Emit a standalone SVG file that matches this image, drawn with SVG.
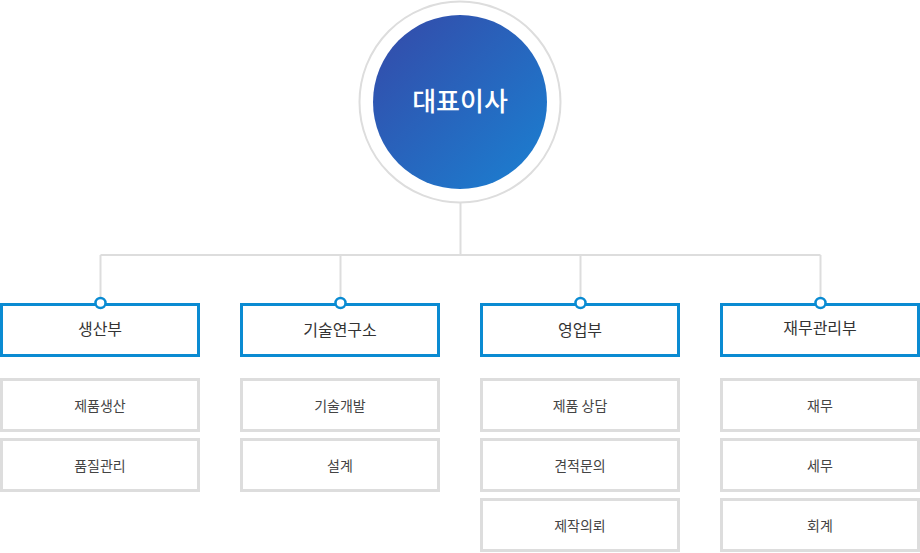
<svg xmlns="http://www.w3.org/2000/svg" width="920" height="553" viewBox="0 0 920 553">
<defs>
<linearGradient id="g" x1="0" y1="0" x2="1" y2="1">
<stop offset="0" stop-color="#3549a8"/>
<stop offset="1" stop-color="#1a81d2"/>
</linearGradient>
<style>
.dept{fill:#fff;stroke:#0a8bd2;stroke-width:3}
.sub{fill:#fff;stroke:#dddddd;stroke-width:3}
.dot{fill:#fff;stroke:#0a8bd2;stroke-width:2.5}
.dt{font-family:"Noto Sans CJK KR","Noto Sans",sans-serif;font-size:16px;fill:#333;text-anchor:middle}
.st{font-family:"Noto Sans CJK KR","Noto Sans",sans-serif;font-size:14px;fill:#444;text-anchor:middle}
.ln{fill:none;stroke:#dddddd;stroke-width:2}
</style>
</defs>
<rect width="920" height="553" fill="#fff"/>
<g id="connectors">
<path class="ln" d="M460.5 203V255M100.5 255H820.5M100.5 255V300M340.5 255V300M580.5 255V300M820.5 255V300"/>
</g>
<g id="ceo">
<circle cx="460" cy="102" r="100.5" fill="#fff" stroke="#dddddd" stroke-width="2"/>
<circle cx="460" cy="102" r="87" fill="url(#g)"/>
<text x="460" y="111" font-family="'Noto Sans CJK KR','Noto Sans',sans-serif" font-size="26" font-weight="500" fill="#fff" text-anchor="middle">대표이사</text>
</g>
<g id="dept-production">
<rect class="dept" x="1.5" y="304.5" width="197" height="51"/>
<circle class="dot" cx="100.5" cy="303" r="5"/>
<text class="dt" x="100" y="335">생산부</text>
</g>
<g id="dept-rnd">
<rect class="dept" x="241.5" y="304.5" width="197" height="51"/>
<circle class="dot" cx="340.5" cy="303" r="5"/>
<text class="dt" x="340" y="336">기술연구소</text>
</g>
<g id="dept-sales">
<rect class="dept" x="481.5" y="304.5" width="197" height="51"/>
<circle class="dot" cx="580.5" cy="303" r="5"/>
<text class="dt" x="580" y="336">영업부</text>
</g>
<g id="dept-finance">
<rect class="dept" x="721.5" y="304.5" width="197" height="51"/>
<circle class="dot" cx="820.5" cy="303" r="5"/>
<text class="dt" x="820" y="334">재무관리부</text>
</g>
<g id="sub-1-1"><rect class="sub" x="1.5" y="379.5" width="197" height="51"/><text class="st" x="100" y="411">제품생산</text></g>
<g id="sub-1-2"><rect class="sub" x="1.5" y="439.5" width="197" height="51"/><text class="st" x="100" y="471">품질관리</text></g>
<g id="sub-2-1"><rect class="sub" x="241.5" y="379.5" width="197" height="51"/><text class="st" x="340" y="411">기술개발</text></g>
<g id="sub-2-2"><rect class="sub" x="241.5" y="439.5" width="197" height="51"/><text class="st" x="340" y="471">설계</text></g>
<g id="sub-3-1"><rect class="sub" x="481.5" y="379.5" width="197" height="51"/><text class="st" x="580" y="411">제품 상담</text></g>
<g id="sub-3-2"><rect class="sub" x="481.5" y="439.5" width="197" height="51"/><text class="st" x="580" y="471">견적문의</text></g>
<g id="sub-3-3"><rect class="sub" x="481.5" y="499.5" width="197" height="51"/><text class="st" x="580" y="531">제작의뢰</text></g>
<g id="sub-4-1"><rect class="sub" x="721.5" y="379.5" width="197" height="51"/><text class="st" x="820" y="411">재무</text></g>
<g id="sub-4-2"><rect class="sub" x="721.5" y="439.5" width="197" height="51"/><text class="st" x="820" y="471">세무</text></g>
<g id="sub-4-3"><rect class="sub" x="721.5" y="499.5" width="197" height="51"/><text class="st" x="820" y="531">회계</text></g>
</svg>
